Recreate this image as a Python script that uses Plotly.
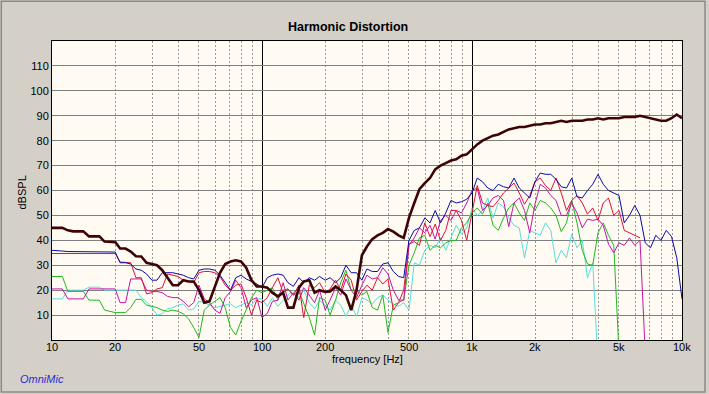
import numpy as np
import plotly.graph_objects as go

# ---------------- data ----------------
FREQ = [10, 10.6, 11.2, 11.9, 12.6, 13.3, 14.1, 15, 15.8, 16.8, 17.8, 18.8, 20, 21.1, 22.4, 23.7, 25.1, 26.6, 28.2, 29.9,
        31.6, 33.5, 35.5, 37.6, 39.8, 42.2, 44.7, 47.3, 50.1, 53.1, 56.2, 59.6, 63.1, 66.8, 70.8, 75, 79.4, 84.1, 89.1, 94.4,
        100, 106, 112, 119, 126, 133, 141, 150, 158, 168, 178, 188, 200, 211, 224, 237, 251, 266, 282, 299,
        316, 335, 355, 376, 398, 422, 447, 473, 501, 531, 562, 596, 631, 668, 708, 750, 794, 841, 891, 944,
        1000, 1059, 1122, 1189, 1259, 1334, 1413, 1496, 1585, 1679, 1778, 1884, 1995, 2113, 2239, 2371, 2512, 2661, 2818, 2985,
        3162, 3350, 3548, 3758, 3981, 4217, 4467, 4732, 5012, 5309, 5623, 5957, 6310, 6683, 7079, 7499, 7943, 8414, 8913, 9441,
        10000]

FUNDAMENTAL = [45, 45, 45, 44, 43.6, 43.6, 43.6, 41.6, 41.6, 41.6,
               39.5, 39.3, 39.3, 36.7, 36.7, 35.5, 33.6, 33.5, 31, 30.5,
               30, 28, 25, 22, 22, 24, 23.5, 23.5, 20, 15,
               15.5, 21.5, 27, 30.5, 31.5, 32, 31.5, 29, 24, 21.5,
               21.5, 21, 19, 17.5, 19, 13, 13, 21, 23.5, 24,
               19, 20, 19.3, 19.5, 21.5, 20, 18, 12, 20, 34,
               37.5, 40.5, 42, 43, 44.5, 43.5, 42, 41, 49, 55,
               60.5, 63, 65, 68.5, 70, 71, 72, 72.5, 74, 74.5,
               76.5, 78.5, 80, 81, 82, 82.5, 83.5, 84.5, 85, 85.5,
               85.5, 86, 86.5, 86.5, 87, 87, 87.5, 88, 87.5, 88,
               88, 88, 88.5, 88.5, 89, 88.5, 89, 89, 89, 89.5,
               89.5, 89.5, 90, 89.5, 89, 88.5, 88, 88, 89, 90.5,
               89]

BLUE = [36, 35.7, 35.7, 35.5, 35.5, 35.5, 35.5, 35.5, 35.5, 35.5,
        35.5, 35.5, 35.3, 31, 31, 30.5, 28.5, 28, 26.5, 24,
        24, 27, 27, 27, 26.5, 26, 25, 24.5, 28, 28.5,
        28.5, 28, 26, 23, 20, 25, 26, 24.5, 23.5, 22.5,
        21, 25, 26, 26.5, 26, 23, 21.5, 25, 23, 25,
        24, 25.5, 24, 25, 23, 25, 30, 27, 27, 24,
        28.5, 27.5, 27.5, 30.5, 31, 27.5, 25.5, 25, 40, 44,
        45, 49, 47, 52, 47, 51, 56, 55, 55.5, 56.5,
        59, 65, 63.5, 61, 60, 62.5, 61.5, 61, 65, 61,
        59, 57, 63.5, 67, 66.5, 66.5, 64.5, 61.5, 61, 65,
        57.5, 57, 60, 62.5, 66.5, 62.5, 60, 59, 58, 47,
        50, 54, 50, 39, 37, 42, 40, 44, 41.5, 33,
        16.5]

RED = [34.7, 34.7, 34.7, 34.7, 34.7, 34.7, 34.7, 35, 35, 35,
       35, 35, 34.7, 31.3, 31.3, 31, 25, 25, 18.5, 19,
       20.5, 21, 26.5, 26, 25.5, 24, 23.5, 23, 27, 27.5,
       27.5, 27, 25.5, 22, 20, 22, 22.5, 17, 10, 16,
       15, 17, 21, 25, 19, 20.5, 18, 22, 9, 22,
       21, 23, 19, 20.5, 24, 20, 26.5, 24, 16, 19.5,
       22, 20, 25, 22.5, 24.5, 12, 15, 20, 38.5, 39.5,
       38, 47, 41.5, 46.5, 40, 44, 52, 52, 48, 40,
       51, 62, 55, 54, 53.5, 56, 59, 61, 63, 59,
       54.5, 58, 63.5, 65, 62, 60, 65, 59, 52, 56,
       58, 55, 50.5, 53, 48, 55, 57, 50, 52, 44,
       43, 42, 41, None, None, None, None, None, None, None,
       None]

MAGENTA = [20.5, 20.5, 20.5, 16.5, 16.5, 16.5, 16.5, 20.5, 20.5, 20.5,
           20.5, 20.5, 20.5, 15, 15, 24.5, 24.5, 24.5, 20, 19.5,
           19.5, 19, 17.5, 17, 17, 15.5, 13.3, 15, 22, 16.5,
           15, 12, 10.7, 17, 19.5, 24, 21, 13, 16, 17,
           9, 10.7, 15.5, 16, 23, 16, 19, 16, 21, 18,
           15, 20, 12, 16, 21, 18, 24.5, 20, 17, 22,
           26, 24.5, 25, 29, 26.5, 20, 16, 16, 38, 41,
           45, 43, 46, 40.5, 48, 50, 48, 52, 51, 55,
           60, 61, 52, 54, 57, 58, 56, 45.5, 55, 57,
           52, 43, 54.5, 62.5, 61, 58, 56, 50, 50, 55,
           51, 45, 48.5, 48, 48.5, 46, 38.5, 35, 39, 38,
           41, 38, 40, -5, None, None, None, None, None, None,
           None]

GREEN = [25.5, 25.5, 25.5, 19.5, 19.5, 19.5, 19.5, 16, 16, 16,
         12, 11.5, 11, 11, 11, 13, 16.3, 16.3, 14, 13.5,
         13, 12, 11.5, 12, 11.5, 10.5, 8.5, 5, 1, 12,
         14, 15.5, 17, 13, 5, 2, 7.5, 12, 17, 20,
         19, 20, 21, 16, 20, 20.5, 18, 19.5, 15, 9,
         2, 17, 16, 10, 16, 23, 28, 20, 20, 18,
         19.5, 13, 12, 18, 3, 14, 15, 16, 30, 35,
         41, 42, 36, 38, 37, 39, 40, 40, 45, 47,
         51, 53, 50.5, 55, 46, 44, 49, 53, 55, 51,
         48, 55, 52, 56, 55, 53, 50, 43.5, 47, 56,
         47, 36, 30.5, 30, 43, 47, 42, 38, -5, None,
         None, None, None, None, None, None, None, None, None, None,
         None]

CYAN = [16.5, 16.5, 16.5, 20, 20, 20, 20, 21.2, 21.2, 21.2,
        20, 20, 20, 20, 20, 20, 20, 17, 15.3, 13,
        10, 10.5, 12.5, 13, 14, 14.5, 12, 12.5, 15.5, 15,
        14, 13, 13.5, 14, 14.5, 13, 14, 15, 14, 16.5,
        16.5, 13.5, 17, 13.5, 16, 18, 20, 17, 20, 15,
        12.5, 16, 14, 12, 16, 14, 9.5, 14, 9.5, 17,
        16, 14.5, 17, 18, 16, 14.5, 13.5, 15, 12, 31,
        30, 36, 38, 37, 41, 36, 41, 46, 42.5, 45,
        53, 50, 52, 57, 49, 55, 53.5, 49, 46, 45,
        33, 44, 43, 42, 47, 44, 31, 36, 33, 42.5,
        37, 40, 25, 31, -10, None, None, None, None, None,
        None, None, None, None, None, None, None, None, None, None,
        None]

X_DECADES = [10, 100, 1000, 10000]
X_MINOR = [20, 30, 40, 50, 60, 70, 80, 90,
           200, 300, 400, 500, 600, 700, 800, 900,
           2000, 3000, 4000, 5000, 6000, 7000, 8000, 9000]
X_LABEL_VALS = [10, 20, 50, 100, 200, 500, 1000, 2000, 5000, 10000]
X_LABEL_TEXT = ["10", "20", "50", "100", "200", "500", "1k", "2k", "5k", "10k"]
Y_TICKS = [10, 20, 30, 40, 50, 60, 70, 80, 90, 100, 110]

# ---------------- figure ----------------
FONT = "Liberation Sans, Arial, sans-serif"
W, H = 709, 394
L, R, T, B = 52, 27, 41, 54
PW, PH = W - L - R, H - T - B


def px(x):
    return (x - L) / PW


def py(y):
    return (H - B - y) / PH


series = [
    ("3rd+", CYAN, "#55dede", 1),
    ("4th", GREEN, "#1fb81f", 1),
    ("5th", MAGENTA, "#c414a8", 1),
    ("3rd", RED, "#e0103a", 1),
    ("2nd", BLUE, "#0a0aa8", 1),
    ("Fundamental", FUNDAMENTAL, "#3c0404", 2.6),
]

fig = go.Figure()
for name, vals, col, w in series:
    fig.add_trace(go.Scatter(x=FREQ, y=vals, mode="lines", name=name,
                             line=dict(color=col, width=w), connectgaps=False,
                             hoverinfo="skip"))

fig.update_layout(
    width=W, height=H,
    margin=dict(l=L, r=R, t=T, b=B, autoexpand=False),
    paper_bgcolor="#d4d0c8",
    plot_bgcolor="#fffbf3",
    showlegend=False,
    font=dict(family=FONT, size=11, color="black"),
)

fig.update_xaxes(
    type="log", range=[1, 4], tickvals=X_DECADES, showticklabels=False,
    showgrid=True, gridcolor="black", gridwidth=1, ticks="",
    showline=True, linecolor="black", linewidth=1, mirror=True, zeroline=False,
    minor=dict(tickvals=X_MINOR, showgrid=True, gridcolor="#9a9a9a",
               griddash="2px,2px", gridwidth=1, ticks=""),
)
fig.update_yaxes(
    range=[0, 120], tickvals=Y_TICKS, ticks="",
    showgrid=True, gridcolor="#7f7f7f", gridwidth=1,
    showline=True, linecolor="black", linewidth=1, mirror=True, zeroline=False,
    tickfont=dict(size=11, color="black", family=FONT),
)

ann = []
for v, t in zip(X_LABEL_VALS, X_LABEL_TEXT):
    ann.append(dict(x=np.log10(v), xref="x", y=py(346.5), yref="paper",
                    text=t, showarrow=False, xanchor="center", yanchor="middle",
                    font=dict(size=11, color="black", family=FONT)))
ann.append(dict(x=px(348), y=py(27.5), xref="paper", yref="paper",
                text="<b>Harmonic Distortion</b>", showarrow=False,
                xanchor="center", yanchor="middle",
                font=dict(size=12.5, color="black", family=FONT)))
ann.append(dict(x=0.5, y=py(359), xref="paper", yref="paper",
                text="frequency [Hz]", showarrow=False,
                xanchor="center", yanchor="middle",
                font=dict(size=11, color="black", family=FONT)))
ann.append(dict(x=px(21.5), y=py(193), xref="paper", yref="paper",
                text="dBSPL", showarrow=False, textangle=-90,
                xanchor="center", yanchor="middle",
                font=dict(size=11, color="black", family=FONT)))
ann.append(dict(x=px(41.5), y=py(379), xref="paper", yref="paper",
                text="<i>OmniMic</i>", showarrow=False,
                xanchor="center", yanchor="middle",
                font=dict(size=11, color="#2b2bd6", family=FONT)))
fig.update_layout(annotations=ann)

fig.add_shape(type="rect", xref="paper", yref="paper",
              x0=px(1.3), x1=px(705), y0=py(392), y1=py(1.3),
              line=dict(color="#8a8a8a", width=1.5), fillcolor="rgba(0,0,0,0)",
              layer="below")

fig.write_html(
    "out.html",
    config={"displayModeBar": False, "staticPlot": True},
    post_script="document.body.style.margin='0px';document.body.style.padding='0px';"
                "document.body.style.overflow='hidden';",
)
